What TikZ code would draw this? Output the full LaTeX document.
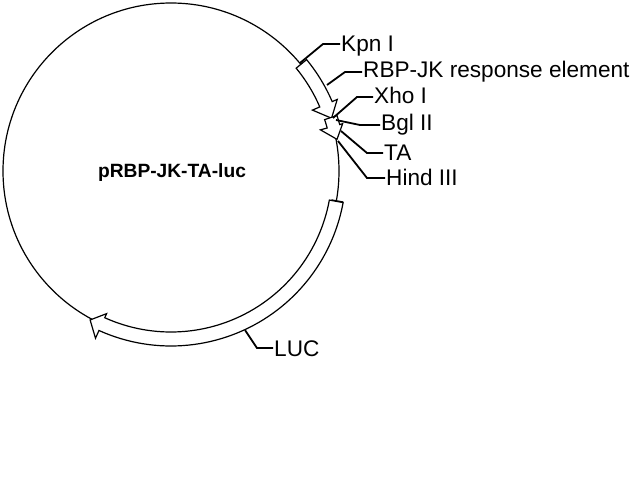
\documentclass[tikz,border=0pt]{standalone}
\usepackage{fontspec}
\setmainfont{Liberation Sans}
\begin{document}
\begin{tikzpicture}[x=1pt,y=-1pt,
  lbl/.style={font=\fontsize{22.6}{25}\selectfont, inner sep=1pt, anchor=base west},
  leader/.style={line width=1.8pt},
  feat/.style={line width=1.2pt, fill=white, line join=miter},
  bb/.style={line width=1.2pt}]
\useasboundingbox (0,0) rectangle (640,480);
\fill[white] (0,0) rectangle (640,480);
\coordinate (c) at (171,171);
\draw[bb] (c) circle[radius=168];
\begin{scope}[shift={(171,171)}]
 % RBP-JK response element
 \draw[feat] (-39.4:162) arc[start angle=-39.4,end angle=-23.3,radius=162] -- (-23.3:154) -- (-18.2:169) -- (-23.3:181) -- (-23.3:175.5) arc[start angle=-23.3,end angle=-39.4,radius=175.5] -- cycle;
 % TA
 \draw[feat] (-18.5:162) arc[start angle=-18.5,end angle=-15.4,radius=162] -- (-15.4:155) -- (-10.8:169) -- (-15.4:178) -- (-15.4:175) arc[start angle=-15.4,end angle=-18.5,radius=175] -- cycle;
 % LUC
 \draw[feat] (10.4:161) arc[start angle=10.4,end angle=114.3,radius=161] -- (114.3:156.5) -- (118.5:169.5) -- (114.3:183.5) -- (114.3:175) arc[start angle=114.3,end angle=10.4,radius=175] -- cycle;
 % Hind III tick
 \draw[bb] (10.2:163) -- (10.2:175);
\end{scope}
% title
\node[font=\bfseries\fontsize{19.2}{22}\selectfont, anchor=base, inner sep=0pt] (title) at (172,177) {pRBP-JK-TA-luc};
% labels
\node[lbl] (kpn) at (340,51) {Kpn I};
\node[lbl] (rbp) at (362,77) {RBP-JK response element};
\node[lbl] (xho) at (373,103) {Xho I};
\node[lbl] (bgl) at (380,130) {Bgl II};
\node[lbl] (ta) at (383,160) {TA};
\node[lbl] (hind) at (385,185) {Hind III};
\node[lbl] (luc) at (273,356) {LUC};
% leader coordinates
\coordinate (kpnS) at (300,63);  \coordinate (kpnM) at (323,44);
\coordinate (rbpS) at (327,85);  \coordinate (rbpM) at (345,72);
\coordinate (xhoS) at (333,118); \coordinate (xhoM) at (357,97);
\coordinate (bglS) at (336,120); \coordinate (bglM) at (360,125);
\coordinate (taS) at (341,131);  \coordinate (taM) at (367,153);
\coordinate (hindS) at (338,141); \coordinate (hindM) at (367,178);
\coordinate (lucS) at (245,330); \coordinate (lucM) at (257,348);
\draw[leader] (kpnS) -- (kpnM) -- (kpnM -| kpn.west);
\draw[leader] (rbpS) -- (rbpM) -- (rbpM -| rbp.west);
\draw[leader] (xhoS) -- (xhoM) -- (xhoM -| xho.west);
\draw[leader] (bglS) -- (bglM) -- (bglM -| bgl.west);
\draw[leader] (taS) -- (taM) -- (taM -| ta.west);
\draw[leader] (hindS) -- (hindM) -- (hindM -| hind.west);
\draw[leader] (lucS) -- (lucM) -- (lucM -| luc.west);
\end{tikzpicture}
\end{document}
